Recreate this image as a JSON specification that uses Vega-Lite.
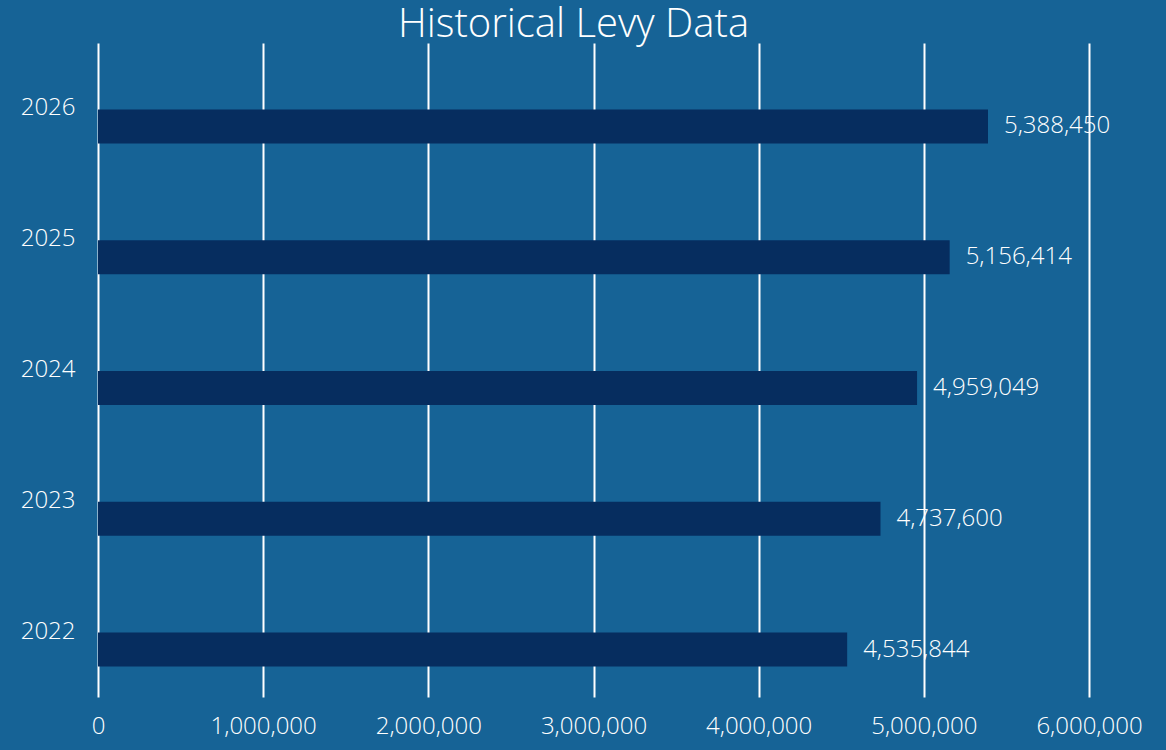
{
  "$schema": "https://vega.github.io/schema/vega-lite/v6.json",
  "autosize": "none",
  "width": 991,
  "height": 654,
  "padding": {"left": 98, "top": 43, "right": 77, "bottom": 53},
  "background": "#166396",
  "config": {"view": {"stroke": null}, "font": "Open Sans"},
  "title": {"text": "Historical Levy Data", "color": "#ffffff", "fontSize": 40, "font": "Open Sans", "fontWeight": 300, "anchor": "middle", "dx": -20, "offset": -2},
  "data": {"values": [
    {"year": "2026", "levy": 5388450},
    {"year": "2025", "levy": 5156414},
    {"year": "2024", "levy": 4959049},
    {"year": "2023", "levy": 4737600},
    {"year": "2022", "levy": 4535844}
  ]},
  "encoding": {
    "y": {"field": "year", "type": "nominal", "sort": "descending",
      "scale": {"paddingInner": 0.74, "paddingOuter": 0.37},
      "axis": {"title": null, "domain": false, "ticks": false, "labelColor": "#ffffff", "labelFontSize": 24, "labelPadding": 23, "labelFont": "Open Sans", "labelFontWeight": 300}},
    "x": {"field": "levy", "type": "quantitative",
      "scale": {"domain": [0, 6000000], "nice": false},
      "axis": {"title": null, "domain": false, "ticks": false, "values": [0, 1000000, 2000000, 3000000, 4000000, 5000000, 6000000], "format": ",d", "labelFlush": false, "labelOverlap": false, "grid": true, "gridColor": "#ffffff", "gridWidth": 2, "gridOpacity": 1, "labelColor": "#ffffff", "labelFontSize": 24, "labelPadding": 17, "labelFont": "Open Sans", "labelFontWeight": 300}}
  },
  "layer": [
    {"mark": {"type": "bar", "color": "#062d5f", "yOffset": 18}},
    {"mark": {"type": "text", "align": "left", "dx": 16, "yOffset": 18, "color": "#ffffff", "fontSize": 24, "font": "Open Sans", "fontWeight": 300},
      "encoding": {"text": {"field": "levy", "type": "quantitative", "format": ",d"}}}
  ]
}
